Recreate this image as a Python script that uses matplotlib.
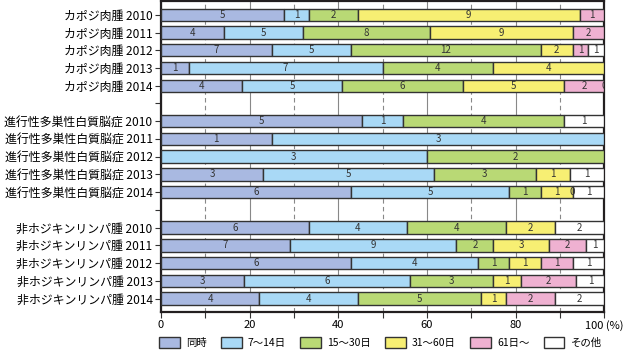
import numpy as np
import matplotlib
matplotlib.use("Agg")
import matplotlib.pyplot as plt
from matplotlib.patches import Patch

plt.rcParams['font.family'] = ['Noto Sans CJK JP', 'DejaVu Sans']

# rows top to bottom; None = blank row between groups
rows = ["カポジ肉腫 2010", "カポジ肉腫 2011", "カポジ肉腫 2012", "カポジ肉腫 2013", "カポジ肉腫 2014",
        None,
        "進行性多巣性白質脳症 2010", "進行性多巣性白質脳症 2011", "進行性多巣性白質脳症 2012",
        "進行性多巣性白質脳症 2013", "進行性多巣性白質脳症 2014",
        None,
        "非ホジキンリンパ腫 2010", "非ホジキンリンパ腫 2011", "非ホジキンリンパ腫 2012",
        "非ホジキンリンパ腫 2013", "非ホジキンリンパ腫 2014"]

categories = ["同時", "7〜14日", "15〜30日", "31〜60日", "61日〜", "その他"]
n = np.nan
# counts per row (columns follow categories), nan = no entry
counts = [
    [5, 1, 2, 9, 1, n],
    [4, 5, 8, 9, 2, n],
    [7, 5, 12, 2, 1, 1],
    [1, 7, 4, 4, n, n],
    [4, 5, 6, 5, 2, 0],
    None,
    [5, 1, 4, n, n, 1],
    [1, 3, n, n, n, n],
    [n, 3, 2, n, n, n],
    [3, 5, 3, 1, n, 1],
    [6, 5, 1, 1, 0, 1],
    None,
    [6, 4, 4, 2, n, 2],
    [7, 9, 2, 3, 2, 1],
    [6, 4, 1, 1, 1, 1],
    [3, 6, 3, 1, 2, 1],
    [4, 4, 5, 1, 2, 2],
]
colors = ["#a9b9e1", "#a9d9f6", "#b9d975", "#f7ef73", "#efb1d1", "#ffffff"]

fig = plt.figure(figsize=(6.36, 3.52), dpi=100)
ax = fig.add_axes([0.253, 0.1136, 0.697, 0.8836])

for i, c in enumerate(counts):
    if c is None:
        continue
    v = np.array(c, dtype=float)
    tot = np.nansum(v)
    left = 0.0
    for j in range(len(categories)):
        if np.isnan(v[j]):
            continue
        w = v[j] / tot * 100
        if w > 0:
            ax.barh(i, w, left=left, height=0.7, color=colors[j],
                    edgecolor="#333333", linewidth=1.0, zorder=3)
        ax.text(left + w / 2, i, "%d" % v[j], ha="center", va="center",
                fontsize=7, color="#333333", zorder=4, clip_on=True)
        left += w

ax.set_xlim(0, 100)
ax.set_ylim(16.76, -0.78)
ax.set_yticks(range(len(rows)))
ax.set_yticklabels([r if r else "" for r in rows], fontsize=8.6)
ax.set_xticks([0, 20, 40, 60, 80, 100])
ax.set_xticklabels(["0", "20", "40", "60", "80", "100 (%)"], fontsize=8)
ax.set_xticks([10, 30, 50, 70, 90], minor=True)
ax.tick_params(axis="both", which="both", direction="out", length=4, width=0.8, color="#333333")
ax.tick_params(axis="x", pad=2)
ax.tick_params(axis="y", pad=2)
ax.grid(True, axis="x", which="major", color="#888888", linewidth=0.8, zorder=0)
ax.grid(True, axis="x", which="minor", color="#888888", linewidth=0.8, linestyle=(0, (4, 3)), zorder=0)
ax.set_axisbelow(True)
for s in ax.spines.values():
    s.set_linewidth(1.6)
    s.set_color("#231f20")

handles = [Patch(facecolor=colors[k], edgecolor="#333333", linewidth=1.0) for k in range(len(categories))]
fig.legend(handles, categories, loc="lower center", bbox_to_anchor=(0.598, -0.015), ncol=6,
           frameon=False, fontsize=7.5, handlelength=2.0, handleheight=1.3,
           columnspacing=1.35, handletextpad=0.6)

fig.savefig("out.png", dpi=100)
